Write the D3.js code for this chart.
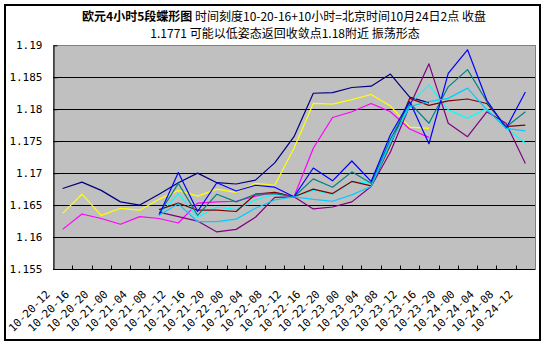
<!DOCTYPE html>
<html>
<head>
<meta charset="utf-8">
<script src="https://cdn.jsdelivr.net/npm/d3@7"></script>
<style>
  html, body { margin: 0; padding: 0; background: #fff; }
  svg { display: block; }
  .tick-label { font-family: "DejaVu Sans Mono", "Liberation Mono", monospace; font-size: 11px; fill: #000; }
  .title { font-family: "Noto Sans CJK SC", sans-serif; font-size: 12px; fill: #000; }
</style>
</head>
<body>
<svg id="chart" width="550" height="347"></svg>
<script>
// 4-hour time axis (month-day-hour)
const categories = [
  "10-20-12", "10-20-16", "10-20-20",
  "10-21-00", "10-21-04", "10-21-08", "10-21-12", "10-21-16", "10-21-20",
  "10-22-00", "10-22-04", "10-22-08", "10-22-12", "10-22-16", "10-22-20",
  "10-23-00", "10-23-04", "10-23-08", "10-23-12", "10-23-16", "10-23-20",
  "10-24-00", "10-24-04", "10-24-08", "10-24-12"
];

const yTicks = [1.155, 1.16, 1.165, 1.17, 1.175, 1.18, 1.185, 1.19];
const yTickLabels = ["1.155", "1.16", "1.165", "1.17", "1.175", "1.18", "1.185", "1.19"];

// Segment series (null = no value for that bar)
const navy = [1.1676, 1.1686, 1.1673, 1.1655, 1.1650, 1.1667, 1.1685, 1.1700, 1.1685, 1.1683,
  1.1689, 1.1716, 1.1757, 1.1825, 1.1826, 1.1834, 1.1836, 1.1855, 1.1819, 1.1810,
  null, null, null, null, null];
const magenta = [1.1612, 1.1636, 1.1629, 1.1620, 1.1632, 1.1629, 1.1622, 1.1653, 1.1655, 1.1656,
  1.1664, 1.1670, 1.1663, 1.1739, 1.1787, 1.1796, 1.1809, 1.1796, 1.1769, 1.1756,
  null, null, null, null, null];
const yellow = [1.1637, 1.1667, 1.1634, 1.1645, 1.1642, 1.1659, 1.1673, 1.1664, 1.1675, 1.1670,
  1.1684, 1.1681, 1.1739, 1.1809, 1.1808, 1.1815, 1.1823, 1.1805, 1.1772, 1.1770,
  null, null, null, null, null];
const aqua = [null, null, null, null, null, 1.1634, 1.1668, 1.1631, 1.1647, 1.1643,
  1.1658, 1.1667, 1.1663, 1.1673, 1.1667, 1.1687, 1.1684, 1.1750, 1.1808, 1.1838,
  1.1799, 1.1786, 1.1801, 1.1770, 1.1747];
const purple = [null, null, null, null, null, 1.1639, 1.1632, 1.1625, 1.1608, 1.1612,
  1.1631, 1.1662, 1.1663, 1.1644, 1.1647, 1.1655, 1.1679, 1.1733, 1.1805, 1.1871,
  1.1778, 1.1757, 1.1796, 1.1778, 1.1715];
const maroon = [null, null, null, null, null, 1.1643, 1.1653, 1.1642, 1.1642, 1.1640,
  1.1667, 1.1670, 1.1663, 1.1675, 1.1668, 1.1687, 1.1680, 1.1744, 1.1817, 1.1806,
  1.1813, 1.1816, 1.1809, 1.1773, 1.1775];
const teal = [null, null, null, null, null, 1.1636, 1.1684, 1.1634, 1.1667, 1.1655,
  1.1667, 1.1668, 1.1663, 1.1691, 1.1678, 1.1702, 1.1684, 1.1753, 1.1810, 1.1778,
  1.1835, 1.1862, 1.1812, 1.1772, 1.1796];
const blue = [null, null, null, null, null, 1.1634, 1.1701, 1.1640, 1.1685, 1.1672,
  1.1681, 1.1678, 1.1663, 1.1708, 1.1688, 1.1719, 1.1687, 1.1760, 1.1812, 1.1746,
  1.1856, 1.1893, 1.1814, 1.1770, 1.1827];
const skyBlue = [null, null, null, null, null, 1.1634, 1.1652, 1.1624, 1.1624, 1.1628,
  1.1645, 1.1658, 1.1663, 1.1659, 1.1656, 1.1666, 1.1679, 1.1747, 1.1804, 1.1812,
  1.1817, 1.1833, 1.1799, 1.1770, 1.1766];

const seriesList = [
  { values: navy, color: "#000080" },
  { values: magenta, color: "#ff00ff" },
  { values: yellow, color: "#ffff00" },
  { values: aqua, color: "#00ffff" },
  { values: purple, color: "#800080" },
  { values: maroon, color: "#800000" },
  { values: teal, color: "#008080" },
  { values: blue, color: "#0000ff" },
  { values: skyBlue, color: "#00ccff" }
];

const svg = d3.select("#chart");

// outer frame
svg.append("rect")
  .attr("x", 5).attr("y", 5).attr("width", 535).attr("height", 335)
  .attr("fill", "#fff").attr("stroke", "#000").attr("stroke-width", 2);

const plot = { left: 53, right: 535, top: 45.3, bottom: 269 };

const x = d3.scaleBand().domain(categories).range([plot.left, plot.right]);
const cx = c => x(c) + x.bandwidth() / 2;
const y = d3.scaleLinear().domain([1.155, 1.19]).range([plot.bottom, plot.top]);

// plot area
svg.append("rect")
  .attr("x", plot.left).attr("y", plot.top)
  .attr("width", plot.right - plot.left).attr("height", plot.bottom - plot.top)
  .attr("fill", "#c0c0c0").attr("stroke", "#808080").attr("stroke-width", 1)
  .attr("shape-rendering", "crispEdges");

// horizontal gridlines
svg.append("g")
  .selectAll("line")
  .data(yTicks.filter(v => v > 1.155 && v < 1.19))
  .join("line")
  .attr("x1", plot.left).attr("x2", plot.right)
  .attr("y1", d => Math.round(y(d)) + 0.5).attr("y2", d => Math.round(y(d)) + 0.5)
  .attr("stroke", "#000").attr("stroke-width", 1);

// series lines
const line = d3.line()
  .defined(d => d.v != null)
  .x(d => cx(d.c))
  .y(d => y(d.v));

svg.append("g")
  .selectAll("path")
  .data(seriesList)
  .join("path")
  .attr("d", s => line(s.values.map((v, i) => ({ c: categories[i], v }))))
  .attr("fill", "none")
  .attr("stroke", s => s.color)
  .attr("stroke-width", 1.2)
  .attr("stroke-linejoin", "round");

// y axis
const yAxis = svg.append("g")
  .attr("transform", `translate(${plot.left + 0.5},0)`)
  .call(d3.axisLeft(y).tickValues(yTicks)
    .tickFormat((d, i) => yTickLabels[i])
    .tickSizeInner(-4).tickSizeOuter(0).tickPadding(11));
yAxis.select(".domain").attr("stroke", "#000");
yAxis.selectAll(".tick line").attr("stroke", "#000");
yAxis.selectAll(".tick text").attr("class", "tick-label").attr("font-family", null).attr("font-size", null);

// x axis: ticks between categories, rotated labels
const xAxis = svg.append("g").attr("transform", `translate(0,${plot.bottom + 0.5})`);
xAxis.append("line")
  .attr("x1", plot.left).attr("x2", plot.right)
  .attr("stroke", "#000");
xAxis.selectAll("line.tk")
  .data(categories.slice(1))
  .join("line")
  .attr("class", "tk")
  .attr("x1", d => Math.round(x(d)) + 0.5).attr("x2", d => Math.round(x(d)) + 0.5)
  .attr("y1", 0).attr("y2", -4)
  .attr("stroke", "#000");

svg.append("g")
  .selectAll("text")
  .data(categories)
  .join("text")
  .attr("class", "tick-label")
  .attr("text-anchor", "end")
  .attr("transform", d => `translate(${cx(d) - 12},295) rotate(-45)`)
  .text(d => d);

// title
const t1 = svg.append("text").attr("class", "title")
  .attr("x", 284).attr("y", 21).attr("text-anchor", "middle");
t1.append("tspan").attr("font-weight", "bold").text("欧元4小时5段蝶形图");
t1.append("tspan").text(" 时间刻度10-20-16+10小时=北京时间10月24日2点 收盘");
svg.append("text").attr("class", "title")
  .attr("x", 285).attr("y", 38).attr("text-anchor", "middle")
  .text("1.1771 可能以低姿态返回收敛点1.18附近 振荡形态");
</script>
</body>
</html>
